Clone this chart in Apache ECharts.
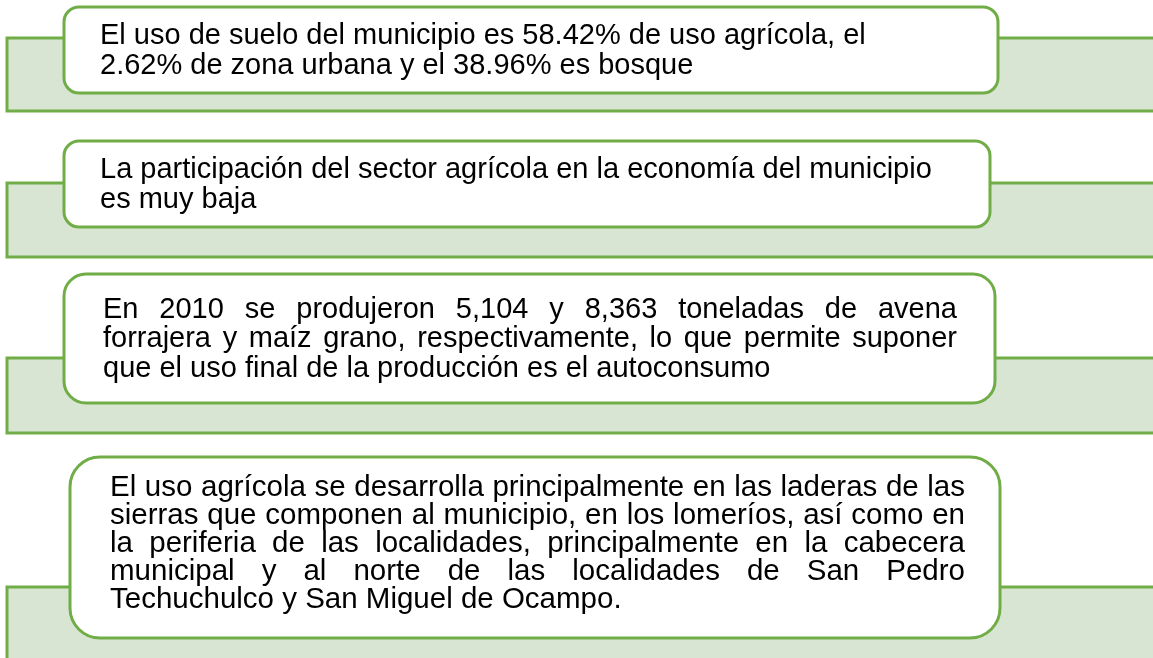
<!DOCTYPE html>
<html>
<head>
<meta charset="utf-8">
<title>Uso de suelo</title>
<script src="https://cdn.jsdelivr.net/npm/echarts@6/dist/echarts.min.js"></script>
<style>
html,body{margin:0;padding:0;background:#fff;}
#main{width:1153px;height:658px;}
</style>
</head>
<body>
<div id="main"></div>
<script>
// textos de cada recuadro (una entrada por renglon)
var box1Lines = [
	'El uso de suelo del municipio es 58.42% de uso agrícola, el',
	'2.62% de zona urbana y el 38.96% es bosque'
];
var box2Lines = [
	'La participación del sector agrícola en la economía del municipio',
	'es muy baja'
];
var box3Lines = [
	'En 2010 se produjeron 5,104 y 8,363 toneladas de avena',
	'forrajera y maíz grano, respectivamente, lo que permite suponer',
	'que el uso final de la producción es el autoconsumo'
];
var box4Lines = [
	'El uso agrícola se desarrolla principalmente en las laderas de las',
	'sierras que componen al municipio, en los lomeríos, así como en',
	'la periferia de las localidades, principalmente en la cabecera',
	'municipal y al norte de las localidades de San Pedro',
	'Techuchulco y San Miguel de Ocampo.'
];

var GREEN = '#70ad47';
var BAND_FILL = '#d9e5d3';
var FONT = '"Liberation Sans", Arial, sans-serif';

// bandas verdes: x, y, ancho, alto
var bands = [
	[7, 38, 1200, 73],
	[7, 183, 1200, 74],
	[7, 358, 1200, 75],
	[7, 587, 1200, 120]
];
// recuadros: x, y, ancho, alto, radio, texto
var boxes = [
	{x: 64, y: 7, w: 934, h: 86, r: 15, lines: box1Lines, tx: 100, base: 43, lh: 30, fs: 29, justify: false},
	{x: 64, y: 141, w: 926, h: 86, r: 15, lines: box2Lines, tx: 100, base: 177, lh: 30, fs: 29, justify: false},
	{x: 64, y: 274, w: 931, h: 129, r: 22, lines: box3Lines, tx: 103, right: 957, base: 317, lh: 29.5, fs: 29, justify: true},
	{x: 70, y: 457, w: 930, h: 181, r: 30, lines: box4Lines, tx: 110, right: 965, base: 495, lh: 28, fs: 29.5, justify: true}
];

var ctx = document.createElement('canvas').getContext('2d');

//拆分单词，两端对齐
function wordItems(line, b, y, isLast){
	var items = [];
	if(!b.justify || isLast){
		items.push({text: line, x: b.tx, y: y});
		return items;
	}
	ctx.font = b.fs + 'px ' + FONT;
	var words = line.split(' ');
	var total = 0;
	for(var i=0;i<words.length;i++){
		total += ctx.measureText(words[i]).width;
	}
	var gap = (b.right - b.tx - total) / (words.length - 1);
	var cx = b.tx;
	for(var j=0;j<words.length;j++){
		items.push({text: words[j], x: cx, y: y});
		cx += ctx.measureText(words[j]).width + gap;
	}
	return items;
}

var elements = [];
for(var i=0;i<bands.length;i++){
	elements.push({
		type: 'rect',
		shape: {x: bands[i][0], y: bands[i][1], width: bands[i][2], height: bands[i][3]},
		style: {fill: BAND_FILL, stroke: GREEN, lineWidth: 3}
	});
}
for(var k=0;k<boxes.length;k++){
	var b = boxes[k];
	elements.push({
		type: 'rect',
		shape: {x: b.x, y: b.y, width: b.w, height: b.h, r: b.r},
		style: {fill: '#fff', stroke: GREEN, lineWidth: 3}
	});
	for(var n=0;n<b.lines.length;n++){
		var baseY = b.base + n * b.lh;
		var items = wordItems(b.lines[n], b, baseY, n == b.lines.length - 1);
		for(var m=0;m<items.length;m++){
			elements.push({
				type: 'text',
				x: items[m].x,
				y: items[m].y - 0.25 * b.fs,
				style: {
					text: items[m].text,
					fill: '#000',
					fontSize: b.fs,
					fontFamily: FONT,
					align: 'left',
					verticalAlign: 'middle'
				}
			});
		}
	}
}

var myChart = echarts.init(document.getElementById('main'), null, {renderer: 'canvas'});
myChart.setOption({
	animation: false,
	backgroundColor: '#fff',
	graphic: {elements: elements}
});
</script>
</body>
</html>
